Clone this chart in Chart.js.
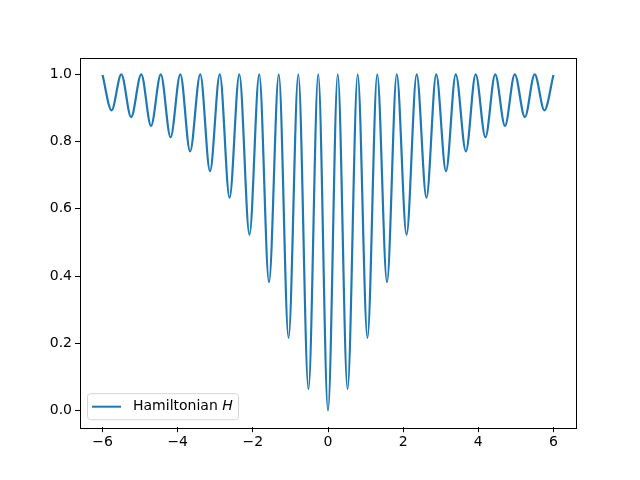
<!DOCTYPE html>
<html>
<head>
<meta charset="utf-8">
<script src="https://cdn.jsdelivr.net/npm/chart.js@4/dist/chart.umd.min.js"></script>
<style>
  html, body { margin: 0; padding: 0; background: #fff; }
  canvas { display: block; }
</style>
</head>
<body>
<canvas id="chart" width="640" height="480"></canvas>
<script>
// Turning points of H (peaks ~1.0, troughs deepen toward x = 0)
const xValues = [
  -6.00, -5.76, -5.50, -5.24, -4.97, -4.71, -4.45, -4.19, -3.93, -3.67, -3.40, -3.14,
  -2.88, -2.62, -2.36, -2.09, -1.83, -1.57, -1.31, -1.05, -0.79, -0.52, -0.26, 0.00,
  0.26, 0.52, 0.79, 1.05, 1.31, 1.57, 1.83, 2.09, 2.36, 2.62, 2.88, 3.14,
  3.40, 3.67, 3.93, 4.19, 4.45, 4.71, 4.97, 5.24, 5.50, 5.76, 6.00
]
const hValues = [
  0.998, 0.893, 1.0, 0.873, 1.0, 0.847, 1.0, 0.813, 1.0, 0.771, 1.0, 0.712,
  1.0, 0.633, 1.0, 0.523, 1.0, 0.382, 1.0, 0.216, 1.0, 0.063, 1.0, 0.0,
  1.0, 0.063, 1.0, 0.216, 1.0, 0.382, 1.0, 0.523, 1.0, 0.633, 1.0, 0.712,
  1.0, 0.771, 1.0, 0.813, 1.0, 0.847, 1.0, 0.873, 1.0, 0.893, 0.998
]
const xTicks = [-6, -4, -2, 0, 2, 4, 6]
const yTicks = [0.0, 0.2, 0.4, 0.6, 0.8, 1.0]
const seriesLabel = 'Hamiltonian'
const seriesSymbol = 'H'

const LINE_COLOR = '#1f77b4'
const FONT = 'DejaVu Sans'

// Frame around the axes plus the matplotlib-style legend in the lower left
const framePlugin = {
  id: 'frame',
  afterDraw(chart) {
    const { ctx, chartArea: a } = chart
    ctx.save()
    ctx.strokeStyle = '#000'
    ctx.lineWidth = 1
    ctx.strokeRect(Math.round(a.left) + 0.5, Math.round(a.top) + 0.5,
      Math.round(a.right - a.left), Math.round(a.bottom - a.top))

    // legend box
    const bx = a.left + 7.5, by = a.bottom - 7.5 - 26, bw = 151, bh = 26
    ctx.beginPath()
    if (ctx.roundRect) ctx.roundRect(bx, by, bw, bh, 3)
    else ctx.rect(bx, by, bw, bh)
    ctx.fillStyle = 'rgba(255,255,255,0.8)'
    ctx.fill()
    ctx.strokeStyle = '#d6d6d6'
    ctx.stroke()

    const midY = by + bh / 2
    ctx.beginPath()
    ctx.moveTo(bx + 4.5, midY)
    ctx.lineTo(bx + 33.5, midY)
    ctx.strokeStyle = LINE_COLOR
    ctx.lineWidth = 2
    ctx.stroke()

    ctx.fillStyle = '#000'
    ctx.textBaseline = 'middle'
    ctx.font = '14px "' + FONT + '"'
    const tx = bx + 45.5
    ctx.fillText(seriesLabel + ' ', tx, midY)
    const w = ctx.measureText(seriesLabel + ' ').width
    ctx.font = 'italic 14px "' + FONT + '"'
    ctx.fillText(seriesSymbol, tx + w, midY)
    ctx.restore()
  },
}

const tickFont = { family: FONT, size: 14 }

new Chart(document.getElementById('chart'), {
  type: 'line',
  data: {
    datasets: [
      {
        data: xValues.map((x, i) => ({ x, y: hValues[i] })),
        borderColor: LINE_COLOR,
        borderWidth: 2.2,
        pointRadius: 0,
        cubicInterpolationMode: 'monotone',
        fill: false,
      },
    ],
  },
  options: {
    responsive: false,
    animation: false,
    events: [],
    layout: { padding: { left: 0, top: 57.6, right: 64, bottom: 0 } },
    plugins: {
      legend: { display: false },
      tooltip: { enabled: false },
    },
    scales: {
      x: {
        type: 'linear',
        min: -6.6,
        max: 6.6,
        afterBuildTicks: (scale) => { scale.ticks = xTicks.map((v) => ({ value: v })) },
        afterFit: (scale) => { scale.height = 52.8 },
        border: { display: false },
        grid: { drawOnChartArea: false, drawTicks: true, tickLength: 5, color: '#000', tickWidth: 1 },
        ticks: {
          color: '#000',
          font: tickFont,
          padding: 2,
          maxRotation: 0,
          callback: (v) => String(v).replace('-', '\u2212'),
        },
      },
      y: {
        type: 'linear',
        min: -0.05,
        max: 1.05,
        afterBuildTicks: (scale) => { scale.ticks = yTicks.map((v) => ({ value: v })) },
        afterFit: (scale) => { scale.width = 80 },
        border: { display: false },
        grid: { drawOnChartArea: false, drawTicks: true, tickLength: 5, color: '#000', tickWidth: 1 },
        ticks: {
          color: '#000',
          font: tickFont,
          padding: 3,
          callback: (v) => v.toFixed(1),
        },
      },
    },
  },
  plugins: [framePlugin],
})
</script>
</body>
</html>
